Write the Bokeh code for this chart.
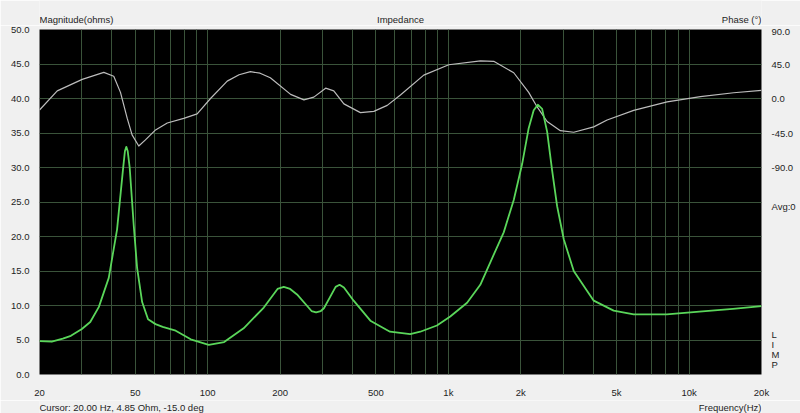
from bokeh.plotting import figure
from bokeh.layouts import column
from bokeh.models import Range1d, LinearAxis, FixedTicker, PrintfTickFormatter, ColumnDataSource
from bokeh.core.properties import value
from bokeh.embed import file_html
from bokeh.resources import INLINE

# ---------------- data ----------------
freq_mag = [20, 22.5, 25, 27, 30, 32.5, 35.3, 38.8, 42, 44.4, 45.3, 45.9, 46.5, 47.4, 49.3, 50.9,
            53.4, 56.5, 60.7, 65, 73, 85, 101, 117, 141, 171, 195, 207, 220, 235, 270, 282, 295,
            304, 340, 353, 368, 404, 474,
            572, 694, 764, 896, 1018, 1196, 1357, 1495, 1698, 1869, 2025, 2156, 2262, 2352,
            2452, 2572, 2698, 2830, 3016, 3318, 3772, 4018, 4860, 5890, 8080, 11040, 15220, 20000]
mag_ohm = [4.85, 4.75, 5.2, 5.6, 6.6, 7.6, 9.8, 14.0, 21.0, 29.5, 32.4, 33.0, 32.4, 30.0, 21.5, 15.4,
           10.5, 8.0, 7.3, 6.9, 6.4, 5.1, 4.3, 4.7, 6.7, 9.7, 12.4, 12.7, 12.4, 11.6, 9.2, 9.0, 9.2,
           9.6, 12.7, 13.0, 12.6, 10.7, 7.8,
           6.2, 5.85, 6.2, 7.1, 8.4, 10.4, 13.0, 16.3, 20.6, 25.3, 30.5, 35.7, 38.3, 39.1,
           38.5, 35.2, 29.6, 24.4, 19.6, 15.0, 12.1, 10.7, 9.25, 8.7, 8.7, 9.1, 9.5, 9.9]

freq_phase = [20, 23.7, 30.1, 37.0, 40.7, 43.4, 46.3, 48.5, 51.7, 55.1, 60.7, 67.9, 79.5, 90.4,
              102.7, 120.5, 135, 150.5, 165, 182, 221, 251, 276, 309, 334, 368, 431, 490, 557,
              632, 790, 1004, 1359, 1543, 1869, 2156, 2338, 2572, 2920, 3318, 4018, 4566, 5888,
              8106, 11150, 15328, 20000]
phase_deg = [-15, 10, 25, 34, 29, 8, -26, -47.5, -62, -54, -41, -32, -26, -20,
             0, 22.7, 31, 35, 33, 27, 5.4, -1.8, 1.8, 13.5, 10, -7, -18.4, -16.8, -9,
             4.5, 30.5, 44, 49, 48.5, 33.6, 8, -11, -30, -42, -44, -37, -28, -15.5,
             -4.5, 2.4, 7.5, 10.6]

mag_ticks = [0, 5, 10, 15, 20, 25, 30, 35, 40, 45, 50]
phase_ticks = [90, 45, 0, -45, -90]
phase_tick_labels = ["90.0", "45.0", "0.0", "-45.0", "-90.0"]
# extra right-hand markers shown in the phase column
marker_ticks = [-140.4, -307.7, -320.5, -334.1, -346.9]
marker_labels = ["Avg:0", "L", "I", "M", "P"]
freq_ticks = [20, 50, 100, 200, 500, 1000, 2000, 5000, 10000, 20000]
freq_tick_labels = ["20", "50", "100", "200", "500", "1k", "2k", "5k", "10k", "20k"]
freq_grid = [20, 30, 40, 50, 60, 70, 80, 90, 100, 200, 300, 400, 500, 600, 700, 800, 900,
             1000, 2000, 3000, 4000, 5000, 6000, 7000, 8000, 9000, 10000, 20000]

title_left = "Magnitude(ohms)"
title_mid = "Impedance"
title_right = "Phase (°)"
footer_left = "Cursor: 20.00 Hz, 4.85 Ohm, -15.0 deg"
footer_right = "Frequency(Hz)"

# ---------------- style ----------------
FONT = "Liberation Sans"
FS = "9.5px"
TXT = "#1e1e1e"
BG = "#f0f0f0"
GRID = "#3a533a"
MAGC = "#5ad65a"
PHC = "#bcbcbc"

W = 800
SIDE = 39
TOP_H, MAIN_H, BOT_H = 25, 375, 13
MAIN_TOP, MAIN_BOT = 4, 18

xr = Range1d(20, 20000)

def strip(h):
    f = figure(width=W, height=h, x_axis_type="log", x_range=xr, y_range=Range1d(0, h),
               x_axis_location=None, y_axis_location=None,
               min_border_left=SIDE, min_border_right=SIDE, min_border_top=0, min_border_bottom=0,
               output_backend="svg", toolbar_location=None,
               background_fill_color=BG, border_fill_color=BG, outline_line_color=None)
    f.xgrid.grid_line_color = None
    f.ygrid.grid_line_color = None
    return f

def put(f, x, y, txt, align):
    f.text(x=[x], y=[y], text=[txt], text_align=align, text_baseline="middle",
           text_font=value(FONT), text_font_size=FS, text_color=TXT)

fmin, fmax = xr.start, xr.end
fmid = (fmin * fmax) ** 0.5

top = strip(TOP_H)
put(top, fmin, 5.8, title_left, "left")
put(top, fmid, 5.8, title_mid, "center")
put(top, fmax, 5.8, title_right, "right")

bottom = strip(BOT_H)
put(bottom, fmin, 6.5, footer_left, "left")
put(bottom, fmax, 6.5, footer_right, "right")

main = figure(width=W, height=MAIN_H, x_axis_type="log", x_range=xr, y_range=Range1d(0, 50),
              min_border_left=SIDE, min_border_right=SIDE,
              min_border_top=MAIN_TOP, min_border_bottom=MAIN_BOT,
              output_backend="svg", toolbar_location=None,
              background_fill_color="black", border_fill_color=BG,
              outline_line_color=None)
main.extra_y_ranges = {"phase": Range1d(-360, 90)}

main.xgrid.ticker = FixedTicker(ticks=freq_grid)
main.ygrid.ticker = FixedTicker(ticks=mag_ticks)
for g in (main.xgrid, main.ygrid):
    g.grid_line_color = GRID
    g.grid_line_width = 1
    g.grid_line_alpha = 1.0

def style_axis(ax):
    ax.axis_line_color = None
    ax.major_tick_line_color = None
    ax.minor_tick_line_color = None
    ax.major_label_text_font = FONT
    ax.major_label_text_font_size = FS
    ax.major_label_text_color = TXT

xa = main.xaxis[0]
xa.ticker = FixedTicker(ticks=freq_ticks)
xa.major_label_overrides = {t: l for t, l in zip(freq_ticks, freq_tick_labels)}
xa.major_label_standoff = 6
style_axis(xa)

ya = main.yaxis[0]
ya.ticker = FixedTicker(ticks=mag_ticks)
ya.formatter = PrintfTickFormatter(format="%.1f")
ya.major_label_standoff = 4
style_axis(ya)

ra = LinearAxis(y_range_name="phase", ticker=FixedTicker(ticks=phase_ticks + marker_ticks))
ra.major_label_overrides = {t: l for t, l in zip(phase_ticks + marker_ticks,
                                                   phase_tick_labels + marker_labels)}
ra.major_label_standoff = 4
style_axis(ra)
main.add_layout(ra, "right")

src_m = ColumnDataSource(dict(f=freq_mag, z=mag_ohm))
src_p = ColumnDataSource(dict(f=freq_phase, ph=phase_deg))
main.line("f", "ph", source=src_p, y_range_name="phase", line_color=PHC, line_width=1.2,
          line_join="round")
main.line("f", "z", source=src_m, line_color=MAGC, line_width=1.8, line_join="round")

p = column(top, main, bottom, spacing=0)

open("out.html", "w").write(file_html(p, INLINE))
